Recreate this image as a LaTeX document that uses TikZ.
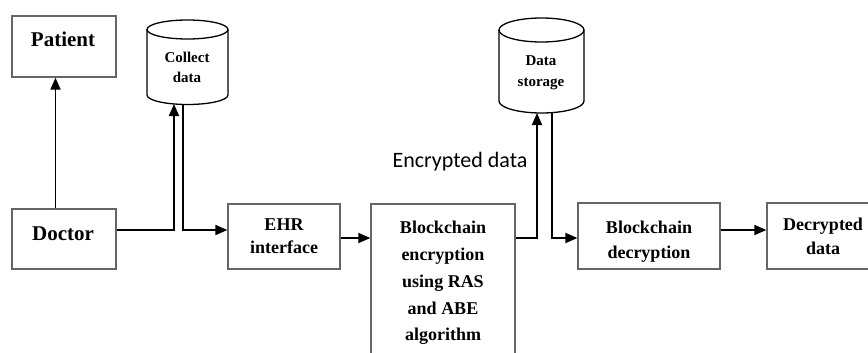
\documentclass[tikz,border=0pt]{standalone}
\usepackage{fontspec}
\setmainfont{Liberation Serif}
\newfontfamily\calib{Carlito}
\usetikzlibrary{arrows.meta,calc}
\tikzset{
  boxst/.style={draw=black!60, line width=1.3pt, fill=white},
  conn/.style={line width=1.8pt, -{Triangle[length=12pt,width=10pt]}},
  plain/.style={line width=1.8pt},
  big/.style={font=\bfseries\fontsize{21}{21}\selectfont, anchor=base, inner sep=0pt},
  mid/.style={font=\bfseries\fontsize{18}{18}\selectfont, anchor=base, inner sep=0pt},
  sml/.style={font=\bfseries\fontsize{15}{15}\selectfont, anchor=base, inner sep=0pt},
  cyl/.style={draw=black, line width=1.3pt, fill=white}
}
\begin{document}
\begin{tikzpicture}[x=1pt,y=-1pt]
\useasboundingbox (0,0) rectangle (868,353);
\clip (0,0) rectangle (868,353);
\fill[white] (0,0) rectangle (868,353);
% boxes
\node[boxst, minimum width=104pt, minimum height=61pt, inner sep=0pt] (patient) at (64,46.5) {};
\node[boxst, minimum width=104pt, minimum height=60pt, inner sep=0pt] (doctor) at (64,239) {};
\node[boxst, minimum width=112pt, minimum height=65pt, inner sep=0pt] (ehr) at (284,236.5) {};
\node[boxst, minimum width=144pt, minimum height=160pt, inner sep=0pt] (enc) at (443,284) {};
\node[boxst, minimum width=142pt, minimum height=66pt, inner sep=0pt] (dec) at (649,236) {};
\node[boxst, minimum width=116pt, minimum height=66pt, inner sep=0pt] (out) at (825,236) {};
% cylinders
\draw[cyl] (147,29.5) -- (147,95) arc[start angle=180,end angle=360,x radius=40.5pt,y radius=9.5pt] -- (228,29.5);
\draw[cyl] (187.5,29.5) ellipse[x radius=40.5pt,y radius=9.5pt];
\coordinate (collA) at (174,104);
\coordinate (collB) at (183,104.5);
\draw[cyl] (499,30) -- (499,101) arc[start angle=180,end angle=360,x radius=42.5pt,y radius=12pt] -- (584,30);
\draw[cyl] (541.5,30) ellipse[x radius=42.5pt,y radius=12pt];
\coordinate (storA) at (537,113);
\coordinate (storB) at (552,112.5);
% texts
\node[big] (tpat) at (63,47) {Patient};
\node[big] (tdoc) at (63,240) {Doctor};
\node[sml] (tcol1) at (187,63) {Collect};
\node[sml] (tcol2) at (187,83) {data};
\node[sml] (tsto1) at (541,66) {Data};
\node[sml] (tsto2) at (541,87) {storage};
\node[mid] (tehr1) at (284,230) {EHR};
\node[mid] (tehr2) at (284,253) {interface};
\node[mid] (tenc1) at (443,233) {Blockchain};
\node[mid] (tenc2) at (443,260) {encryption};
\node[mid] (tenc3) at (443,287) {using RAS};
\node[mid] (tenc4) at (443,314) {and ABE};
\node[mid] (tenc5) at (443,340) {algorithm};
\node[mid] (tdec1) at (649,233) {Blockchain};
\node[mid] (tdec2) at (649,258) {decryption};
\node[mid] (tout1) at (823,230) {Decrypted};
\node[mid] (tout2) at (823,254) {data};
\node[font=\calib\fontsize{22}{22}\selectfont, anchor=base, inner sep=0pt] (tlab) at (460,167) {Encrypted data};
% connectors
\draw[conn] (doctor.north -| 55.5,0) -- (patient.south -| 55.5,0);
\draw[conn] (doctor.east |- 0,230) -| (collA);
\draw[conn] (collB) |- (ehr.west |- 0,230);
\draw[conn] (ehr.east |- 0,238) -- (enc.west |- 0,238);
\draw[conn] (enc.east |- 0,238) -| (storA);
\draw[conn] (storB) |- (dec.west |- 0,238);
\draw[conn] (dec.east |- 0,230) -- (out.west |- 0,230);
\end{tikzpicture}
\end{document}
